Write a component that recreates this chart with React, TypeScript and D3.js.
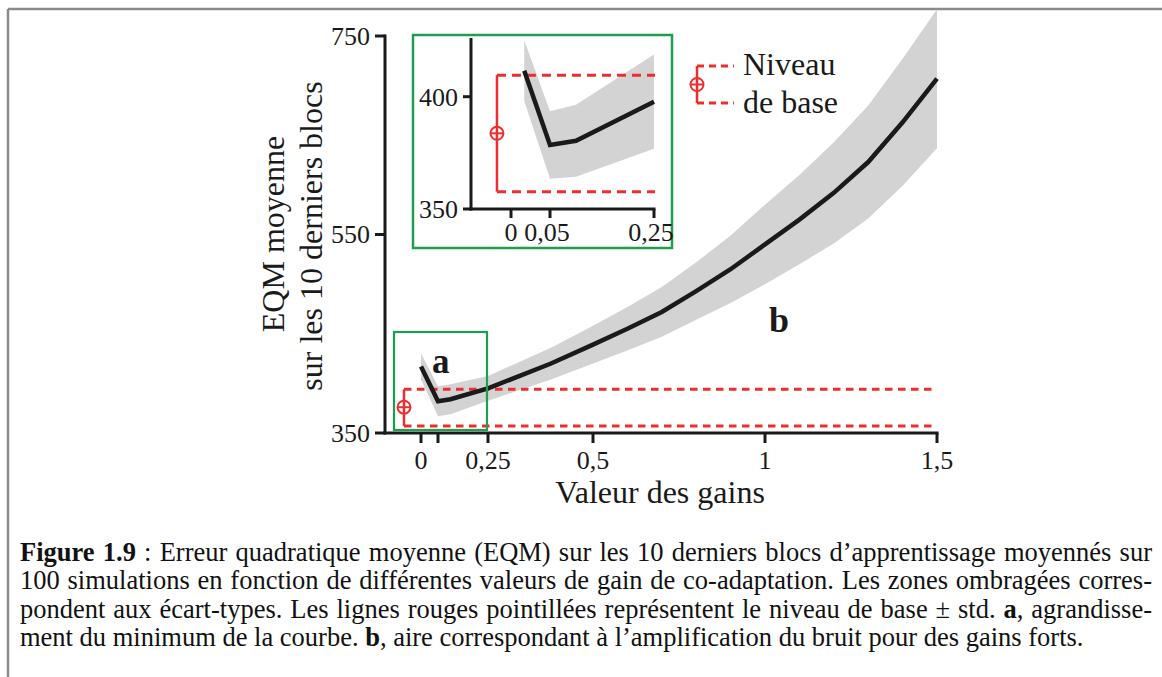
import React, { useLayoutEffect, useRef } from 'react';
import * as d3 from 'd3';

// ---------- data ----------
const gains = [0, 0.05, 0.1, 0.25, 0.4, 0.5, 0.6, 0.7, 0.8, 0.9, 1.0, 1.1, 1.2, 1.3, 1.4, 1.5];
const meanEQM = [417, 382, 384, 395, 420, 439, 455, 472, 493, 515, 540, 565, 592, 623, 663, 707];
const stdEQM = [13, 15, 15, 12.5, 16, 19, 22, 25, 29, 34, 40, 45, 51, 57, 64, 70];
const baselineMain = [357, 376, 394]; // low, mean, high
const baselineGainMain = -0.05;

const insetGains = [0.017, 0.05, 0.1, 0.25];
const insetMean = [411.6, 378.5, 380.4, 397.8];
const insetStd = [13.5, 15, 16, 21];
const baselineInset = [357.7, 383.7, 409.6];
const baselineGainInset = -0.018;

const xTicksMain = [0, 0.05, 0.25, 0.5, 1, 1.5];
const xTickLabelsMain = ['0', '', '0,25', '0,5', '1', '1,5'];
const yTicksMain = [350, 550, 750];
const yTickLabelsMain = ['350', '550', '750'];
const xTicksInset = [0, 0.05, 0.25];
const xTickLabelsInset = ['0', '0,05', '0,25'];
const yTicksInset = [350, 400];
const yTickLabelsInset = ['350', '400'];

const yTitleLines = ['EQM moyenne', 'sur les 10 derniers blocs'];
const xTitle = 'Valeur des gains';
const legendLines = ['Niveau', 'de base'];

type Part = { t: string; b?: boolean };
const captionLines: { parts: Part[]; justify: boolean }[] = [
  { parts: [{ t: 'Figure 1.9', b: true }, { t: ' : Erreur quadratique moyenne (EQM) sur les 10 derniers blocs d\u2019apprentissage moyennés sur' }], justify: true },
  { parts: [{ t: '100 simulations en fonction de différentes valeurs de gain de co-adaptation. Les zones ombragées corres-' }], justify: true },
  { parts: [{ t: 'pondent aux écart-types. Les lignes rouges pointillées représentent le niveau de base ± std. ' }, { t: 'a', b: true }, { t: ', agrandisse-' }], justify: true },
  { parts: [{ t: 'ment du minimum de la courbe. ' }, { t: 'b', b: true }, { t: ', aire correspondant à l\u2019amplification du bruit pour des gains forts.' }], justify: false },
];

// ---------- styles ----------
const FONT = '"Liberation Serif", "Times New Roman", serif';
const RED = '#ee2e2e';
const GREEN = '#1f9e4e';
const BAND = '#d3d3d3';
const INK = '#1a1a1a';

const W = 1162;
const H = 677;

function BaselineBracket({ x, yLow, yMid, yHigh, xEnd, dash }: { x: number; yLow: number; yMid: number; yHigh: number; xEnd: number; dash: string }) {
  return (
    <g stroke={RED} fill="none">
      <line x1={x} x2={x} y1={yHigh} y2={yLow} strokeWidth={2.5} />
      <line x1={x} x2={xEnd} y1={yHigh} y2={yHigh} strokeWidth={3} strokeDasharray={dash} />
      <line x1={x} x2={xEnd} y1={yLow} y2={yLow} strokeWidth={3} strokeDasharray={dash} />
      <circle cx={x} cy={yMid} r={6.5} strokeWidth={2} />
      <line x1={x - 6.5} x2={x + 6.5} y1={yMid} y2={yMid} strokeWidth={2} />
    </g>
  );
}

export default function App() {
  const capRef = useRef<SVGGElement>(null);

  useLayoutEffect(() => {
    const justify = () => {
      const g = capRef.current;
      if (!g) return;
      g.querySelectorAll('text[data-justify="1"]').forEach((node) => {
        const el = node as SVGTextElement;
        el.style.wordSpacing = '0px';
        const w = el.getComputedTextLength();
        const target = Number(el.getAttribute('data-width'));
        const spaces = (el.textContent || '').split(' ').length - 1;
        if (spaces > 0) el.style.wordSpacing = `${(target - w) / spaces}px`;
      });
    };
    justify();
    if ((document as any).fonts && (document as any).fonts.ready) {
      (document as any).fonts.ready.then(justify);
    }
  }, []);

  // main scales
  const x = d3.scaleLinear().domain([0, 0.05, 0.25, 0.5, 1.5]).range([421, 438, 488, 593, 937]);
  const y = d3.scaleLinear().domain([350, 750]).range([433, 36]);
  const xAxisLeft = 385;

  const rows = gains.map((g, i) => ({ g, m: meanEQM[i], s: stdEQM[i] }));
  const area = d3.area<typeof rows[0]>().x((d) => x(d.g)).y0((d) => y(d.m - d.s)).y1((d) => y(d.m + d.s));
  const line = d3.line<typeof rows[0]>().x((d) => x(d.g)).y((d) => y(d.m));

  // inset scales
  const xi = d3.scaleLinear().domain([0, 0.05, 0.25]).range([511, 550, 654]);
  const yi = d3.scaleLinear().domain([350, 400]).range([209, 96.7]);
  const yiTop = 38;
  const xiLeft = 471;
  const irows = insetGains.map((g, i) => ({ g, m: insetMean[i], s: insetStd[i] }));
  const iarea = d3.area<typeof irows[0]>().x((d) => xi(d.g)).y0((d) => yi(d.m - d.s)).y1((d) => yi(d.m + d.s));
  const iline = d3.line<typeof irows[0]>().x((d) => xi(d.g)).y((d) => yi(d.m));

  const capX = 20;
  const capW = 1132;
  const capY0 = 561;
  const capDY = 28.4;

  return (
    <svg width={W} height={H} style={{ position: 'absolute', left: 0, top: 0, background: '#fff' }} fontFamily={FONT}>
      <rect x={0} y={0} width={W} height={H} fill="#fff" />
      {/* frame */}
      <line x1={8} x2={W} y1={9} y2={9} stroke="#8a8a8a" strokeWidth={2.5} />
      <line x1={8} x2={8} y1={9} y2={H} stroke="#8a8a8a" strokeWidth={2.5} />

      {/* main band & curve */}
      <path d={area(rows) || ''} fill={BAND} />

      {/* main baseline */}
      <BaselineBracket
        x={x(baselineGainMain)}
        yLow={y(baselineMain[0])}
        yMid={y(baselineMain[1])}
        yHigh={y(baselineMain[2])}
        xEnd={x(gains[gains.length - 1])}
        dash="7.5 5.5"
      />

      <path d={line(rows) || ''} fill="none" stroke={INK} strokeWidth={4.5} />

      {/* main axes */}
      <g stroke={INK} strokeWidth={3} fill="none">
        <line x1={xAxisLeft} x2={xAxisLeft} y1={y(750) - 1.5} y2={y(350) + 1.5} />
        <line x1={xAxisLeft - 1.5} x2={x(1.5) + 1.5} y1={y(350)} y2={y(350)} />
        {yTicksMain.map((t) => (
          <line key={t} x1={xAxisLeft - 10} x2={xAxisLeft} y1={y(t)} y2={y(t)} />
        ))}
        {xTicksMain.map((t) => (
          <line key={t} x1={x(t)} x2={x(t)} y1={y(350)} y2={y(350) + 10} />
        ))}
      </g>
      <g fontSize={26} fill={INK}>
        {yTicksMain.map((t, i) => (
          <text key={t} x={xAxisLeft - 15} y={y(t)} dy="0.34em" textAnchor="end">{yTickLabelsMain[i]}</text>
        ))}
        {xTicksMain.map((t, i) => (
          <text key={t} x={x(t)} y={469} textAnchor="middle">{xTickLabelsMain[i]}</text>
        ))}
      </g>
      <text x={660} y={503} fontSize={32} textAnchor="middle" fill={INK}>{xTitle}</text>
      <g fontSize={32} fill={INK}>
        <text transform="translate(284,234) rotate(-90)" textAnchor="middle">{yTitleLines[0]}</text>
        <text transform="translate(322,236) rotate(-90)" textAnchor="middle">{yTitleLines[1]}</text>
      </g>

      {/* zoom region box */}
      <rect x={394} y={332} width={93} height={98} fill="none" stroke={GREEN} strokeWidth={2.2} />
      <text x={432} y={373} fontSize={35} fontWeight="bold" fill={INK}>a</text>
      <text x={769} y={332} fontSize={36} fontWeight="bold" fill={INK}>b</text>

      {/* inset */}
      <rect x={413} y={35} width={259} height={213} fill="#fff" stroke={GREEN} strokeWidth={2.5} />
      <path d={iarea(irows) || ''} fill={BAND} />
      <BaselineBracket
        x={xi(baselineGainInset)}
        yLow={yi(baselineInset[0])}
        yMid={yi(baselineInset[1])}
        yHigh={yi(baselineInset[2])}
        xEnd={xi(0.25) + 1}
        dash="9 6"
      />
      <path d={iline(irows) || ''} fill="none" stroke={INK} strokeWidth={4.5} />
      <g stroke={INK} strokeWidth={3} fill="none">
        <line x1={xiLeft} x2={xiLeft} y1={yiTop} y2={yi(350) + 1.5} />
        <line x1={xiLeft - 1.5} x2={xi(0.25) + 1.5} y1={yi(350)} y2={yi(350)} />
        {yTicksInset.map((t) => (
          <line key={t} x1={xiLeft - 8} x2={xiLeft} y1={yi(t)} y2={yi(t)} />
        ))}
        {xTicksInset.map((t) => (
          <line key={t} x1={xi(t)} x2={xi(t)} y1={yi(350)} y2={yi(350) + 9} />
        ))}
      </g>
      <g fontSize={26} fill={INK}>
        {yTicksInset.map((t, i) => (
          <text key={t} x={xiLeft - 13} y={yi(t)} dy="0.34em" textAnchor="end">{yTickLabelsInset[i]}</text>
        ))}
        {xTicksInset.map((t, i) => (
          <text key={t} x={xi(t) + (i === 0 ? 0 : -3)} y={241} textAnchor="middle">{xTickLabelsInset[i]}</text>
        ))}
      </g>

      {/* legend */}
      <g stroke={RED} fill="none">
        <line x1={697} x2={697} y1={66} y2={103} strokeWidth={2.5} />
        <line x1={697} x2={734} y1={66} y2={66} strokeWidth={3} strokeDasharray="7 5" />
        <line x1={697} x2={734} y1={103} y2={103} strokeWidth={3} strokeDasharray="7 5" />
        <circle cx={697} cy={84.5} r={6.5} strokeWidth={2} />
        <line x1={690.5} x2={703.5} y1={84.5} y2={84.5} strokeWidth={2} />
      </g>
      <g fontSize={32} fill={INK}>
        <text x={743} y={75}>{legendLines[0]}</text>
        <text x={743} y={113}>{legendLines[1]}</text>
      </g>

      {/* caption */}
      <g ref={capRef} fontSize={26.5} fill="#111">
        {captionLines.map((ln, i) => (
          <text
            key={i}
            x={capX}
            y={capY0 + i * capDY}
            data-justify={ln.justify ? '1' : '0'}
            data-width={capW}
          >
            {ln.parts.map((p, j) => (
              <tspan key={j} fontWeight={p.b ? 'bold' : 'normal'}>{p.t}</tspan>
            ))}
          </text>
        ))}
      </g>
    </svg>
  );
}
